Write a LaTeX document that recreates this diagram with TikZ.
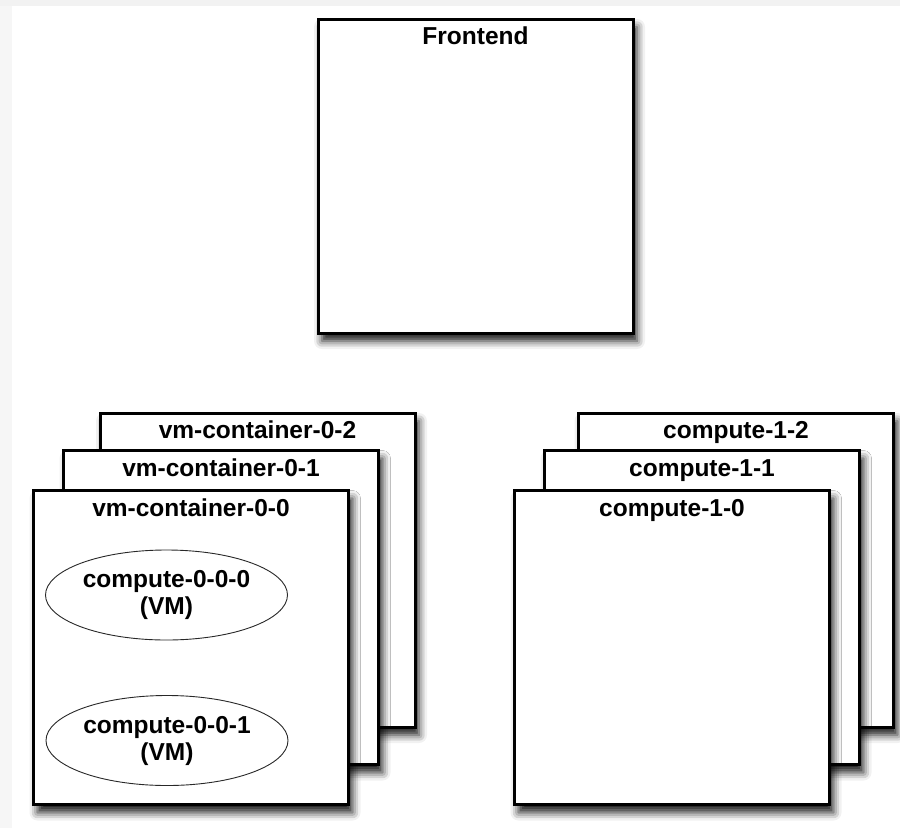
\documentclass[tikz,border=0pt]{standalone}
\usepackage{fontspec}
\setmainfont{Liberation Sans}
\usetikzlibrary{shapes.geometric, shadows.blur, positioning}
\definecolor{stripcolor}{RGB}{242, 242, 242}
\definecolor{vmline}{RGB}{40, 40, 40}

\tikzset{
    hostbox/.style={draw=black, line width=3pt, fill=white, minimum width=315pt, minimum height=314pt, inner sep=0pt,
        blur shadow={shadow xshift=4pt, shadow yshift=-8pt, shadow blur radius=8pt, shadow opacity=90}},
    hostlabel/.style={font=\bfseries\fontsize{24.5}{26}\selectfont, inner sep=0pt, anchor=base},
    vmnode/.style={draw=vmline, ellipse, line width=0.9pt, minimum width=242pt, minimum height=90pt, inner sep=0pt,
        align=center, font=\bfseries\fontsize{24.5}{27}\selectfont}
}

\begin{document}
\begin{tikzpicture}[x=1pt, y=-1pt]
    \useasboundingbox (0,0) rectangle (900,828);
    % Background strips
    \fill[stripcolor] (0,0) rectangle (900,6);
    \fill[stripcolor!70!white] (0,6) rectangle (12,828);

    % Frontend
    \node[hostbox] (frontend) at (475.5,176) {};
    \node[hostlabel] at ([yshift=-27pt]frontend.north) {Frontend};

    % VM containers (back to front)
    \node[hostbox] (vmc02) at (257.5,570) {};
    \node[hostlabel] at ([yshift=-27pt]vmc02.north) {vm-container-0-2};
    \node[hostbox] (vmc01) at (221,607.5) {};
    \node[hostlabel] at ([yshift=-27pt]vmc01.north) {vm-container-0-1};
    \node[hostbox] (vmc00) at (191,647.5) {};
    \node[hostlabel] at ([yshift=-27pt]vmc00.north) {vm-container-0-0};

    % Virtual machines
    \node[vmnode] (vm000) at (166.5,595) {compute-0-0-0\\(VM)};
    \node[vmnode] (vm001) at (167,740.5) {compute-0-0-1\\(VM)};

    % Compute nodes (back to front)
    \node[hostbox] (c12) at (736,570) {};
    \node[hostlabel] at ([yshift=-27pt]c12.north) {compute-1-2};
    \node[hostbox] (c11) at (702,607.5) {};
    \node[hostlabel] at ([yshift=-27pt]c11.north) {compute-1-1};
    \node[hostbox] (c10) at (672,647.5) {};
    \node[hostlabel] at ([yshift=-27pt]c10.north) {compute-1-0};

\end{tikzpicture}
\end{document}
